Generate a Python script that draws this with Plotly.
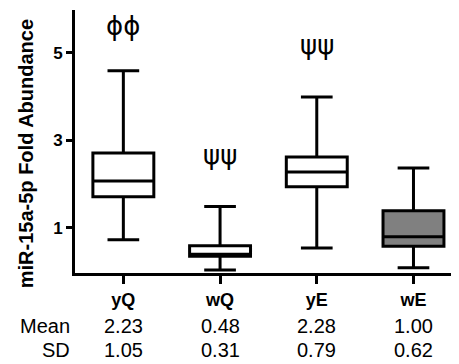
import plotly.graph_objects as go

categories = ["yQ", "wQ", "yE", "wE"]
upper_whisker = [4.59, 1.49, 3.99, 2.37]
q3_values = [2.71, 0.59, 2.62, 1.39]
median_values = [2.07, 0.40, 2.28, 0.80]
q1_values = [1.71, 0.35, 1.94, 0.58]
lower_whisker = [0.73, 0.04, 0.54, 0.09]
fill_colors = ["white", "white", "white", "#808080"]

mean_values = ["2.23", "0.48", "2.28", "1.00"]
sd_values = ["1.05", "0.31", "0.79", "0.62"]
sig_labels = ["ϕϕ", "ψψ", "ψψ", ""]
sig_ypos = [0.94, 0.449, 0.867, 0]

y_ticks = [1, 3, 5]

fig = go.Figure()
for i, c in enumerate(categories):
    fig.add_trace(go.Box(
        x=[c], q1=[q1_values[i]], median=[median_values[i]], q3=[q3_values[i]],
        lowerfence=[lower_whisker[i]], upperfence=[upper_whisker[i]],
        fillcolor=fill_colors[i], line=dict(color="black", width=3),
        width=0.63, whiskerwidth=0.52, boxpoints=False, showlegend=False,
        hoverinfo="skip",
    ))

annotations = []
txt_font = dict(size=20, color="black", family="Arial, Liberation Sans")
for i, c in enumerate(categories):
    if sig_labels[i]:
        annotations.append(dict(x=c, xref="x", y=sig_ypos[i], yref="paper",
                                text=sig_labels[i], showarrow=False, yanchor="middle",
                                font=dict(size=26, color="black", family="DejaVu Sans")))
    annotations.append(dict(x=c, xref="x", y=-0.2015, yref="paper", text=mean_values[i],
                            showarrow=False, yanchor="middle", font=txt_font))
    annotations.append(dict(x=c, xref="x", y=-0.293, yref="paper", text=sd_values[i],
                            showarrow=False, yanchor="middle", font=txt_font))
annotations.append(dict(x=-0.008, xref="paper", y=-0.2015, yref="paper", text="Mean",
                        showarrow=False, xanchor="right", yanchor="middle", font=txt_font))
annotations.append(dict(x=-0.008, xref="paper", y=-0.293, yref="paper", text="SD",
                        showarrow=False, xanchor="right", yanchor="middle", font=txt_font))
annotations.append(dict(x=-0.128, xref="paper", y=0.452, yref="paper",
                        text="<b>miR-15a-5p Fold Abundance</b>", textangle=-90,
                        showarrow=False, xanchor="center", yanchor="middle",
                        font=dict(size=20, color="black", family="Arial, Liberation Sans")))

fig.update_layout(
    width=451, height=356,
    margin=dict(l=67, r=2, t=2, b=91),
    paper_bgcolor="white", plot_bgcolor="white",
    font=dict(family="Arial, Liberation Sans", color="black"),
    annotations=annotations,
    xaxis=dict(
        type="category", categoryorder="array", categoryarray=categories,
        range=[-0.5, 3.45], showline=True, linecolor="black", linewidth=3,
        ticks="outside", ticklen=8, tickwidth=3, tickcolor="black",
        tickvals=categories, ticktext=["<b>%s</b>" % c for c in categories],
        tickfont=dict(size=18), showgrid=False, zeroline=False, automargin=False,
    ),
    yaxis=dict(
        range=[-0.03, 5.98], showline=True, linecolor="black", linewidth=3,
        ticks="outside", ticklen=6, tickwidth=3, tickcolor="black",
        tickvals=y_ticks, ticktext=["<b>%d</b>" % v for v in y_ticks],
        tickfont=dict(size=17), showgrid=False, zeroline=False, automargin=False,
    ),
)

fig.write_html("out.html")
